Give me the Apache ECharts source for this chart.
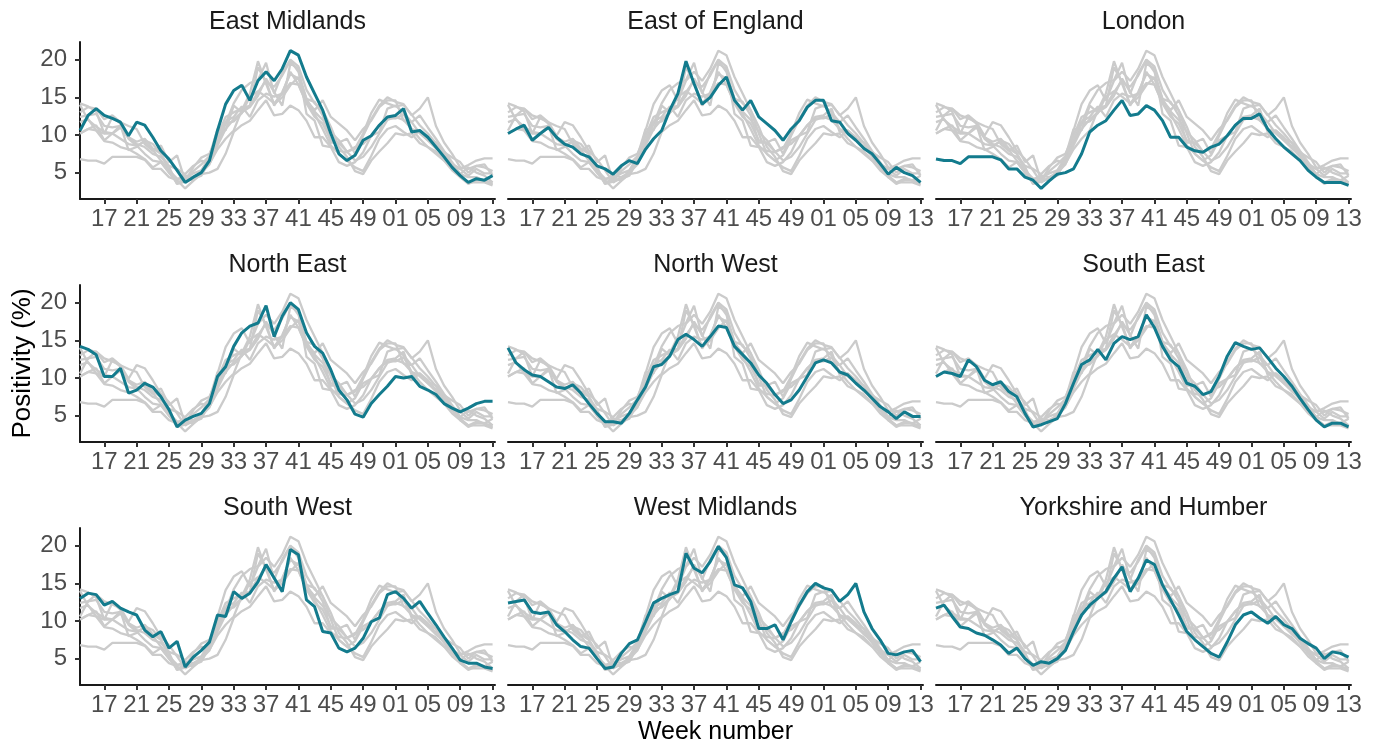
<!DOCTYPE html>
<html>
<head>
<meta charset="utf-8">
<script src="https://cdn.jsdelivr.net/npm/echarts@6/dist/echarts.min.js"></script>
<style>
html,body{margin:0;padding:0;background:#fff;}
#chart{width:1381px;height:746px;}
</style>
</head>
<body>
<div id="chart"></div>
<script>
// Week index: 14..52 are weeks of year one, 53..65 are weeks 01..13 of the next year
const weeks = [14,15,16,17,18,19,20,21,22,23,24,25,26,27,28,29,30,31,32,33,34,35,36,37,38,39,40,41,42,43,44,45,46,47,48,49,50,51,52,53,54,55,56,57,58,59,60,61,62,63,64,65];
const tickWeeks = [17,21,25,29,33,37,41,45,49,53,57,61,65];
const tickLabels = ['17','21','25','29','33','37','41','45','49','01','05','09','13'];
const yTicks = [5,10,15,20];

const regions = ['East Midlands','East of England','London','North East','North West','South East','South West','West Midlands','Yorkshire and Humber'];

const eastMidlands = [10.6,12.6,13.5,12.6,12.2,11.7,9.9,11.7,11.3,9.7,7.9,6.8,5.3,3.7,4.4,5.0,6.6,10.6,14.1,15.9,16.6,14.6,17.2,18.4,17.2,18.8,21.2,20.6,17.7,15.5,13.3,10.2,7.5,6.6,7.3,9.3,9.9,11.3,12.4,12.6,13.5,10.4,10.6,9.7,8.4,7.1,5.7,4.6,3.7,4.2,4.0,4.6];
const eastOfEngland = [10.2,10.8,11.3,9.3,10.2,11.0,9.7,8.8,8.4,7.5,7.1,5.9,5.5,4.8,5.9,6.6,6.2,8.1,9.5,10.6,13.3,15.5,19.8,16.8,14.1,15.0,16.6,17.7,14.6,13.3,14.6,12.4,11.5,10.6,9.3,10.8,11.9,13.7,14.6,14.6,11.9,11.7,10.2,9.3,8.2,7.5,6.2,4.8,5.7,5.0,4.6,3.7];
const london = [6.8,6.6,6.6,6.2,7.1,7.1,7.1,7.1,6.7,5.5,5.5,4.4,4.0,2.9,3.9,4.8,5.0,5.5,7.5,10.4,11.3,11.9,13.3,14.6,12.6,12.8,13.9,13.3,11.9,9.7,9.7,8.4,7.9,7.7,8.4,8.8,9.9,11.3,12.2,12.2,12.8,10.8,9.5,8.4,7.5,6.6,5.3,4.4,3.7,3.7,3.7,3.3];
const northEast = [14.2,13.8,13.1,10.2,10.2,11.3,8.0,8.4,9.3,8.8,7.5,5.8,3.5,4.4,4.9,5.3,6.6,10.2,11.5,14.2,16.0,16.9,17.3,19.6,15.5,18.2,20.0,19.1,16.0,14.2,13.3,11.1,8.4,7.1,5.2,4.8,6.6,7.8,8.9,10.2,10.0,10.2,8.9,8.4,7.8,6.6,6.0,5.5,6.0,6.6,6.9,6.9];
const northWest = [14.0,12.0,11.1,10.4,10.2,9.5,8.8,8.6,9.1,8.0,6.6,5.3,4.2,4.2,4.0,5.3,7.1,8.8,11.5,11.8,12.9,15.1,15.8,15.1,14.2,15.5,16.9,16.7,14.2,13.1,12.0,10.4,9.3,7.8,6.6,7.1,8.4,10.2,12.0,12.4,12.0,10.8,10.4,9.3,8.4,7.3,6.2,5.5,4.6,5.5,4.9,4.9];
const southEast = [10.2,10.8,10.6,10.2,12.4,11.5,9.7,9.1,9.5,8.2,7.5,5.3,3.5,3.8,4.2,4.6,6.6,9.3,11.8,12.4,13.8,12.4,14.6,15.5,15.1,15.5,18.4,16.7,14.2,12.4,11.5,9.3,8.9,7.8,8.2,10.2,12.9,14.7,14.2,13.8,14.0,12.7,11.3,10.2,8.9,7.3,5.8,4.4,3.5,4.0,4.0,3.5];
const southWest = [13.0,13.7,13.5,12.1,12.6,11.7,11.2,10.8,8.8,7.9,8.6,6.4,7.3,3.9,5.2,6.1,7.2,10.8,10.6,13.9,13.0,13.7,15.2,17.5,15.7,13.9,19.5,18.8,12.8,11.9,8.6,8.4,6.4,5.9,6.4,7.7,9.9,10.4,13.5,13.9,13.0,11.7,12.6,11.0,9.5,7.9,6.4,4.8,4.4,4.4,3.9,3.7];
const westMidlands = [12.4,12.6,12.8,11.2,11.0,11.2,9.5,8.6,7.5,6.6,6.4,5.0,3.7,3.9,5.7,7.0,7.5,9.9,12.4,13.0,13.5,13.9,19.0,17.0,16.4,17.9,19.9,18.4,14.8,14.4,12.6,9.0,9.0,9.5,7.5,9.9,12.1,13.9,15.0,14.4,14.1,12.6,13.5,15.0,11.2,9.0,7.5,5.7,5.5,5.9,6.1,4.6];
const yorkshire = [11.7,12.1,10.6,9.2,9.0,8.4,8.1,7.5,6.8,5.7,6.4,5.0,4.1,4.6,4.4,5.0,6.1,8.6,10.8,12.1,13.0,13.9,15.7,17.2,13.9,15.7,18.1,17.5,14.8,12.8,10.8,8.6,7.5,6.6,5.7,5.2,7.2,9.5,10.8,11.2,10.4,9.7,10.6,9.5,9.0,7.7,7.0,6.4,5.0,5.9,5.7,5.2];

const regionValues = [eastMidlands, eastOfEngland, london, northEast, northWest, southEast, southWest, westMidlands, yorkshire];

const FONT = "'Liberation Sans', Arial, Helvetica, sans-serif";
const TEAL = '#137b8d';
const GREY = '#cbcbcb';
const AXIS = '#1a1a1a';

const colLeft = [80, 508, 936];
const rowTop = [42, 285, 528];
const W = 415, H = 157;

const grids = [], xAxes = [], yAxes = [], series = [], graphics = [];

for (let p = 0; p < 9; p++) {
  const r = Math.floor(p / 3), c = p % 3;
  grids.push({left: colLeft[c], top: rowTop[r], width: W, height: H, containLabel: false, outerBoundsMode: 'none'});
  xAxes.push({
    type: 'value', gridIndex: p, min: 14, max: 65.3,
    axisLine: {show: true, onZero: false, lineStyle: {color: AXIS, width: 2}},
    axisTick: {show: true, length: 5, customValues: tickWeeks, lineStyle: {color: '#333', width: 2}},
    axisLabel: {show: true, customValues: tickWeeks, margin: 8, fontSize: 24, color: '#4d4d4d', fontFamily: FONT,
      formatter: function (v) { const i = tickWeeks.indexOf(Math.round(v)); return i >= 0 ? tickLabels[i] : ''; }},
    splitLine: {show: false},
    name: p === 7 ? 'Week number' : '',
    nameLocation: 'middle', nameGap: 35,
    nameTextStyle: {fontSize: 25, color: '#000', fontFamily: FONT}
  });
  const showY = c === 0;
  yAxes.push({
    type: 'value', gridIndex: p, min: 1.5, max: 22.35,
    axisLine: {show: showY, lineStyle: {color: AXIS, width: 2}},
    axisTick: {show: showY, length: 5, customValues: yTicks, lineStyle: {color: '#333', width: 2}},
    axisLabel: {show: showY, customValues: yTicks, margin: 13, fontSize: 24, color: '#4d4d4d', fontFamily: FONT},
    splitLine: {show: false},
    name: p === 3 ? 'Positivity (%)' : '',
    nameLocation: 'middle', nameRotate: 90, nameGap: 44,
    nameTextStyle: {fontSize: 26, color: '#000', fontFamily: FONT}
  });
  for (let k = 0; k < 9; k++) {
    if (k === p) continue;
    series.push({
      type: 'line', xAxisIndex: p, yAxisIndex: p, symbol: 'none', silent: true, z: 2,
      lineStyle: {color: GREY, width: 2.3},
      data: weeks.map((w, i) => [w, regionValues[k][i]])
    });
  }
  series.push({
    type: 'line', xAxisIndex: p, yAxisIndex: p, symbol: 'none', silent: true, z: 3,
    lineStyle: {color: TEAL, width: 3},
    data: weeks.map((w, i) => [w, regionValues[p][i]])
  });
  graphics.push({
    type: 'text', x: colLeft[c] + W / 2, y: [22, 265, 508][r],
    style: {text: regions[p], fontSize: 25, fontFamily: FONT, fill: '#1a1a1a',
      align: 'center', verticalAlign: 'middle', textAlign: 'center', textVerticalAlign: 'middle'}
  });
}

const chart = echarts.init(document.getElementById('chart'), null, {renderer: 'canvas'});
chart.setOption({
  animation: false,
  backgroundColor: '#fff',
  grid: grids, xAxis: xAxes, yAxis: yAxes, series: series,
  graphic: graphics
});
</script>
</body>
</html>
